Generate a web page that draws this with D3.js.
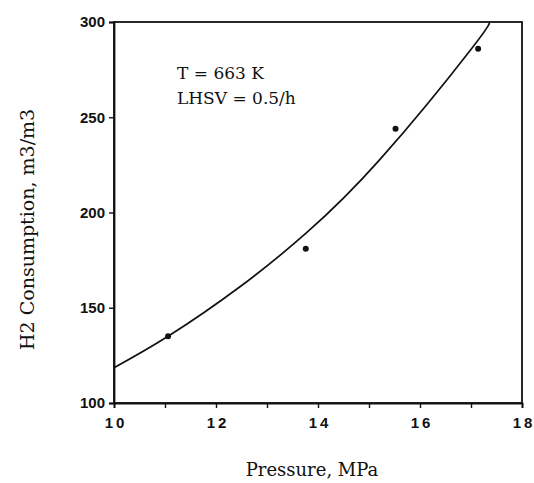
<!DOCTYPE html>
<html>
<head>
<meta charset="utf-8">
<script src="https://cdn.jsdelivr.net/npm/d3@7"></script>
<style>
  body { margin: 0; background: #fff; }
  svg { display: block; }
</style>
</head>
<body>
<div id="chart"></div>
<script>
// measured points
const pressure = [11.06, 13.76, 15.52, 17.14];
const consumption = [135, 181, 244, 286];
// fitted curve
const curveP = [10, 11.06, 12.47, 13.76, 15.22, 17.01, 17.35];
const curveH = [118.5, 135, 161, 189, 228, 286, 300];
const xTicks = [10, 12, 14, 16, 18];
const xMinor = [11, 13, 15, 17];
const yTicks = [100, 150, 200, 250, 300];
const notes = ['T = 663 K', 'LHSV = 0.5/h'];

const width = 534, height = 483;
const margin = {top: 22, right: 12, bottom: 80, left: 114};
const svg = d3.select('#chart').append('svg').attr('width', width).attr('height', height);
const g = svg.append('g').attr('transform', `translate(${margin.left},${margin.top})`);
const innerWidth = width - margin.left - margin.right;
const innerHeight = height - margin.top - margin.bottom;

const xScale = d3.scaleLinear().domain([10, 18]).range([0, innerWidth]);
const yScale = d3.scaleLinear().domain([100, 300]).range([innerHeight, 0]);

// frame
g.append('rect').attr('width', innerWidth).attr('height', innerHeight)
  .attr('fill', 'none').attr('stroke', '#111').attr('stroke-width', 1.8);

const xAxis = g.append('g').attr('transform', `translate(0,${innerHeight})`)
  .call(d3.axisBottom(xScale).tickValues(xTicks).tickSize(5).tickPadding(9).tickFormat(d3.format('d')));
// minor ticks, no labels
g.append('g').attr('transform', `translate(0,${innerHeight})`)
  .call(d3.axisBottom(xScale).tickValues(xMinor).tickSize(5))
  .call(a => a.select('.domain').remove())
  .call(a => a.selectAll('text').remove());
const yAxis = g.append('g')
  .call(d3.axisLeft(yScale).tickValues(yTicks).tickSize(5).tickPadding(4));
svg.selectAll('.domain').attr('stroke', '#111').attr('stroke-width', 1.8);
svg.selectAll('.tick line').attr('stroke', '#111').attr('stroke-width', 1.4);
xAxis.selectAll('text').attr('font-family', 'Liberation Sans, Arial, sans-serif')
  .attr('font-weight', 'bold').attr('font-size', 15).attr('fill', '#111')
  .text(d => String(d).split('').join('\u2009'));
yAxis.selectAll('text').attr('font-family', 'Liberation Sans, Arial, sans-serif')
  .attr('font-weight', 'bold').attr('font-size', 15).attr('fill', '#111');

// curve
const line = d3.line().x(d => xScale(d[0])).y(d => yScale(d[1])).curve(d3.curveNatural);
g.append('path').datum(d3.zip(curveP, curveH))
  .attr('fill', 'none').attr('stroke', '#111').attr('stroke-width', 1.7).attr('d', line);

// points
g.selectAll('circle.pt').data(d3.zip(pressure, consumption)).join('circle')
  .attr('class', 'pt').attr('cx', d => xScale(d[0])).attr('cy', d => yScale(d[1]))
  .attr('r', 3).attr('fill', '#111');

// annotation
g.selectAll('text.note').data(notes).join('text')
  .attr('class', 'note').attr('x', 63).attr('y', (d, i) => 57 + i * 25)
  .attr('font-family', 'DejaVu Serif, serif').attr('font-size', 17).attr('fill', '#111')
  .text(d => d);

// axis titles
svg.append('text').attr('x', 312).attr('y', 476).attr('text-anchor', 'middle')
  .attr('font-family', 'DejaVu Serif, serif').attr('font-size', 18).attr('fill', '#111')
  .text('Pressure, MPa');
svg.append('text').attr('transform', 'rotate(-90)').attr('x', -350).attr('y', 34)
  .attr('text-anchor', 'start')
  .attr('font-family', 'DejaVu Serif, serif').attr('font-size', 19).attr('fill', '#111')
  .text('H2 Consumption, m3/m3');
</script>
</body>
</html>
